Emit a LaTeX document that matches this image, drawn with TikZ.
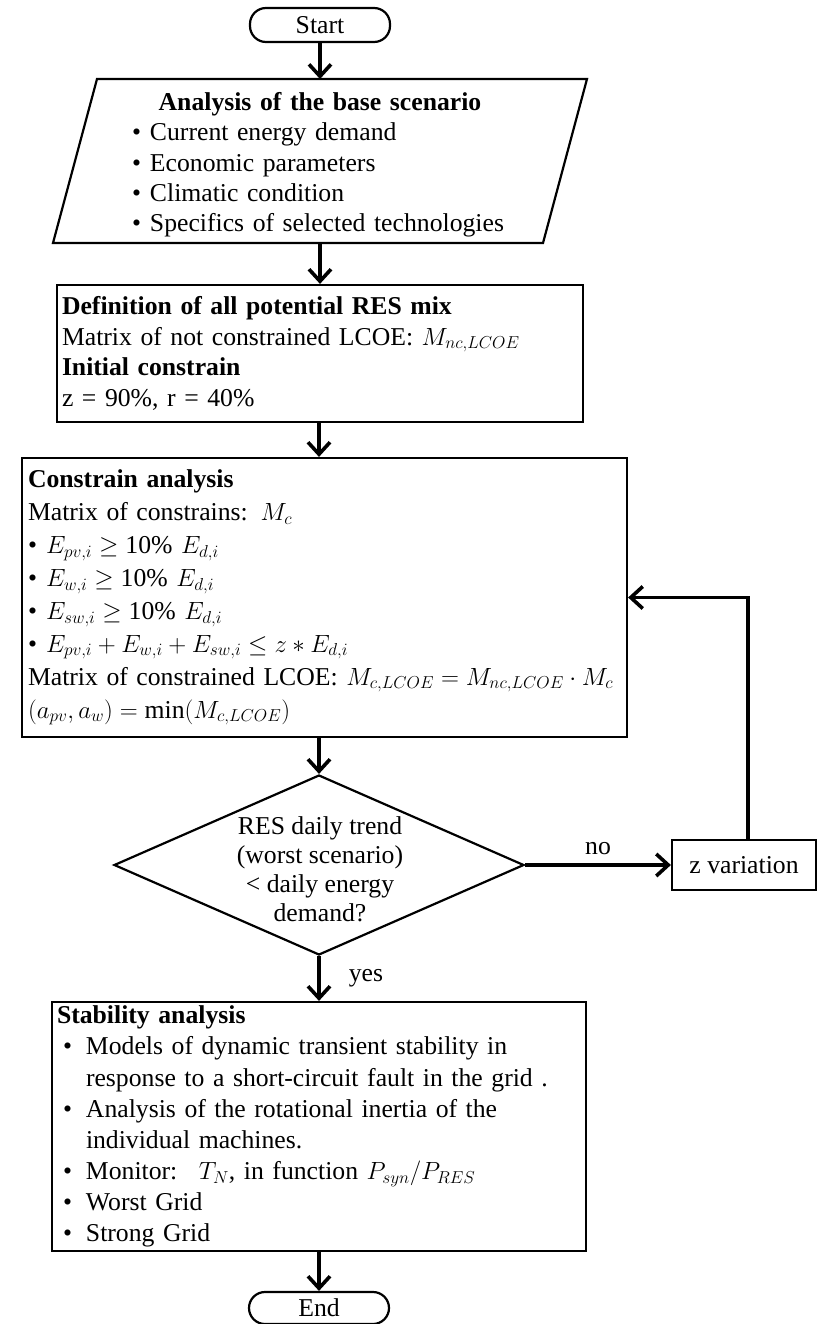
\documentclass[tikz,border=0pt]{standalone}
\usepackage{fontspec}
\setmainfont{Liberation Serif}
\usetikzlibrary{arrows.meta,shapes.geometric}
\newcommand{\mybul}{\makebox[18pt][l]{\textbullet}}
\newcommand{\mybulw}{\makebox[29pt][l]{\hspace{6pt}\textbullet}}
\begin{document}
\begin{tikzpicture}[x=1pt,y=-1pt,
  boxline/.style={draw=black, line width=2.2pt},
  box/.style={boxline, rectangle, align=left, inner ysep=0pt, font={\fontsize{25.7}{30.8}\selectfont}},
  term/.style={boxline, rectangle, rounded corners=16pt, minimum width=140pt, minimum height=34pt, inner sep=0pt, font={\fontsize{25.7}{30}\selectfont}},
  arr/.style={line width=3.6pt, -{Straight Barb[length=12pt,width=22pt]}},
  lbl/.style={font={\fontsize{25.7}{30}\selectfont}, inner sep=2pt}
]
\useasboundingbox (0,0) rectangle (817,1324);
\fill[white] (0,0) rectangle (817,1324);
\coordinate (col) at (319,0);

% Start
\node[term] (start) at (320,25) {Start};

% Parallelogram
\coordinate (pTL) at (97,79);
\coordinate (pTR) at (587,79);
\coordinate (pBR) at (543,243);
\coordinate (pBL) at (53,243);
\draw[boxline] (pTL) -- (pTR) -- (pBR) -- (pBL) -- cycle;
\node[align=left, text width=376pt, inner sep=0pt, font={\fontsize{25.7}{30.3}\selectfont}] (paratxt) at (320,165)
  {{\centering\textbf{Analysis of the base scenario}\par}
   \mybul Current energy demand\\
   \mybul Economic parameters\\
   \mybul Climatic condition\\
   \mybul Specifics of selected technologies};

% Box 2
\node[box, text width=516pt, inner xsep=5pt, minimum height=137pt] (box2) at (320,353.5)
  {\textbf{Definition of all potential RES mix}\\
   Matrix of not constrained LCOE: $M_{nc,LCOE}$\\
   \textbf{Initial constrain}\\
   z = 90\%, r = 40\%};

% Box 3
\node[box, text width=593pt, inner xsep=6pt, minimum height=279pt, font={\fontsize{25.7}{32.9}\selectfont}] (box3) at (324.5,597.5)
  {\textbf{Constrain analysis}\\
   Matrix of constrains: $M_c$\\
   \mybul$E_{pv,i}\geq\mbox{10\% }E_{d,i}$\\
   \mybul$E_{w,i}\geq\mbox{10\% }E_{d,i}$\\
   \mybul$E_{sw,i}\geq\mbox{10\% }E_{d,i}$\\
   \mybul$E_{pv,i}+E_{w,i}+E_{sw,i}\leq z\ast E_{d,i}$\\
   Matrix of constrained LCOE: $M_{c,LCOE}=M_{nc,LCOE}\cdot M_c$\\
   $\bigl(a_{pv},a_w\bigr)=\min\bigl(M_{c,LCOE}\bigr)$};

% Decision
\node[boxline, diamond, minimum width=410pt, minimum height=180pt, inner sep=0pt] (dec) at (319,865) {};
\node[align=center, inner sep=0pt, font={\fontsize{25.7}{29}\selectfont}] (dectxt) at (320,869)
  {RES daily trend\\(worst scenario)\\< daily energy\\demand?};

% z variation
\node[box, minimum width=144pt, minimum height=50pt, align=center] (zbox) at (744,865) {z variation};

% Box 4
\node[box, text width=524pt, inner xsep=5pt, minimum height=249pt, font={\fontsize{25.7}{31.1}\selectfont}] (box4) at (319,1126.5)
  {\textbf{Stability analysis}\\
   \mybulw Models of dynamic transient stability in\\
   \hspace*{29pt}response to a short-circuit fault in the grid .\\
   \mybulw Analysis of the rotational inertia of the\\
   \hspace*{29pt}individual machines.\\
   \mybulw Monitor: \ $T_N$, in function $P_{syn}/P_{RES}$\\
   \mybulw Worst Grid\\
   \mybulw Strong Grid};

% End
\node[term, minimum height=32pt] (end) at (319,1308) {End};

% Connectors
\draw[arr] (start) -- (start |- pTL);
\draw[arr] (start |- pBL) -- (box2.north -| start);
\draw[arr] (box2.south -| col) -- (box3.north -| col);
\draw[arr] (box3.south -| col) -- (dec.north);
\draw[arr] (dec.south) -- (box4.north -| col) node[lbl, midway, anchor=west, xshift=26pt] {yes};
\draw[arr] (dec.east) -- (zbox.west) node[lbl, midway, above=6pt] {no};
\draw[arr] ([xshift=4pt]zbox.north) |- (box3.east);
\draw[arr] (box4.south -| col) -- (end.north);
\end{tikzpicture}
\end{document}
